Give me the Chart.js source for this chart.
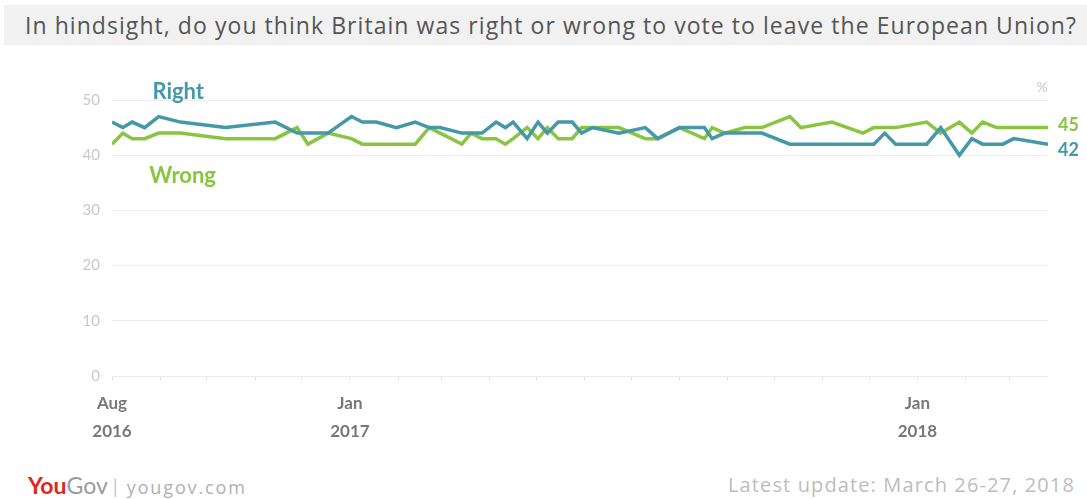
<!DOCTYPE html>
<html>
<head>
<meta charset="utf-8">
<script src="https://cdn.jsdelivr.net/npm/chart.js@4"></script>
<style>
  body { margin: 0; background: #fff; width: 1087px; height: 499px; overflow: hidden; position: relative; font-family: Lato, "Open Sans", sans-serif; }
  #titulek { position: absolute; left: 4px; top: 5px; width: 1083px; height: 40px; background: #f1f1f1; }
  #titulek span { position: absolute; left: 21px; top: 4px; font-family: "Open Sans", sans-serif; font-size: 23px; color: #555; white-space: nowrap; }
  #graf { position: absolute; left: 0; top: 0; width: 1087px; height: 460px; }
  #logo { position: absolute; left: 28px; top: 471px; font-size: 23px; white-space: nowrap; }
  #logo .you { color: #e0261d; font-weight: bold; }
  #logo .gov { color: #9a9a9a; }
  #logo .car { color: #c8c8c8; font-size: 20px; margin: 0 9px 0 5px; }
  #logo .web { color: #b0b0b0; font-family: "Open Sans", sans-serif; font-size: 18px; }
  #aktualizace { position: absolute; right: 12px; top: 471px; font-family: "Open Sans", sans-serif; font-size: 20px; color: #bdbdbd; white-space: nowrap; }
</style>
</head>
<body>
<div id="titulek"><span id="titulekText">In hindsight, do you think Britain was right or wrong to vote to leave the European Union?</span></div>
<div id="graf"><canvas id="grafPruzkumu"></canvas></div>
<div id="logo"><span class="you">You</span><span class="gov">Gov</span><span class="car">|</span><span class="web" id="web">yougov.com</span></div>
<div id="aktualizace">Latest update: March 26-27, 2018</div>

<script>
const terminy = [
  "2016-08-01", "2016-08-08", "2016-08-14", "2016-08-22", "2016-08-31", "2016-09-14",
  "2016-10-13", "2016-11-14", "2016-11-28", "2016-12-05", "2016-12-18", "2017-01-02",
  "2017-01-09", "2017-01-18", "2017-01-31", "2017-02-12", "2017-02-21", "2017-02-28",
  "2017-03-14", "2017-03-20", "2017-03-27", "2017-04-05", "2017-04-11", "2017-04-16",
  "2017-04-25", "2017-05-02", "2017-05-08", "2017-05-15", "2017-05-24", "2017-05-30",
  "2017-06-06", "2017-06-23", "2017-07-10", "2017-07-18", "2017-08-01", "2017-08-17",
  "2017-08-22", "2017-08-30", "2017-09-12", "2017-09-23", "2017-10-11", "2017-10-18",
  "2017-11-07", "2017-11-27", "2017-12-04", "2017-12-11", "2017-12-18", "2018-01-07",
  "2018-01-16", "2018-01-28", "2018-02-05", "2018-02-12", "2018-02-21", "2018-02-25",
  "2018-03-04", "2018-03-26"
];

const spravne = [
  46, 45, 46, 45, 47, 46,
  45, 46, 44, 44, 44, 47,
  46, 46, 45, 46, 45, 45,
  44, 44, 44, 46, 45, 46,
  43, 46, 44, 46, 46, 44,
  45, 44, 45, 43, 45, 45,
  43, 44, 44, 44, 42, 42,
  42, 42, 42, 44, 42, 42,
  45, 40, 43, 42, 42, 42,
  43, 42
];

const spatne = [
  42, 44, 43, 43, 44, 44,
  43, 43, 45, 42, 44, 43,
  42, 42, 42, 42, 45, 44,
  42, 44, 43, 43, 42, 43,
  45, 43, 45, 43, 43, 45,
  45, 45, 43, 43, 45, 43,
  45, 44, 45, 45, 47, 45,
  46, 44, 45, 45, 45, 46,
  44, 46, 44, 46, 45, 45,
  45, 45
];

// měsíční značky na ose x
const mesiceOsy = [
  "2016-08-01", "2016-09-01", "2016-10-01", "2016-11-01", "2016-12-01",
  "2017-01-01", "2017-02-01", "2017-03-01", "2017-04-01", "2017-05-01", "2017-06-01",
  "2017-07-01", "2017-08-01", "2017-09-01", "2017-10-01", "2017-11-01", "2017-12-01",
  "2018-01-01", "2018-02-01", "2018-03-01"
];
const popiskyOsy = {
  "2016-08-01": ["Aug", "2016"],
  "2017-01-01": ["Jan", "2017"],
  "2018-01-01": ["Jan", "2018"]
};
const konecOsy = "2018-03-26";
const osaY = [0, 10, 20, 30, 40, 50];

const BARVA_RIGHT = "#4598a7";
const BARVA_WRONG = "#89c541";

// doladí šířku textu podle originálu (jiný font)
function roztahni(el, sirka) {
  const n = el.textContent.length;
  el.style.letterSpacing = ((sirka - el.getBoundingClientRect().width) / n) + "px";
}
roztahni(document.getElementById("titulekText"), 1052);
roztahni(document.getElementById("aktualizace"), 347);
roztahni(document.getElementById("web"), 120);

const START = Date.parse("2016-08-01");
const den = d => Math.round((Date.parse(d) - START) / 86400000);

const body = hodnoty => terminy.map((t, i) => ({ x: den(t), y: hodnoty[i] }));

const popiskyPlugin = {
  id: "popisky",
  afterDatasetsDraw(chart) {
    const { ctx, scales: { x, y } } = chart;
    ctx.save();
    ctx.textBaseline = "middle";
    ctx.font = "bold 22px Lato, 'Open Sans', sans-serif";
    ctx.fillStyle = BARVA_RIGHT;
    ctx.fillText("Right", x.getPixelForValue(26), y.getPixelForValue(51.5));
    ctx.fillStyle = BARVA_WRONG;
    ctx.fillText("Wrong", x.getPixelForValue(24), y.getPixelForValue(36.3));

    // koncové hodnoty
    const posledni = terminy.length - 1;
    const xKonec = x.getPixelForValue(den(terminy[posledni])) + 10;
    ctx.font = "bold 18px Lato, 'Open Sans', sans-serif";
    ctx.fillStyle = BARVA_WRONG;
    ctx.fillText(String(spatne[posledni]), xKonec, y.getPixelForValue(spatne[posledni]) - 2);
    ctx.fillStyle = BARVA_RIGHT;
    ctx.fillText(String(spravne[posledni]), xKonec, y.getPixelForValue(spravne[posledni]) + 6);

    // procenta vpravo nahoře
    ctx.font = "14px Lato, 'Open Sans', sans-serif";
    ctx.fillStyle = "#c8c8c8";
    ctx.textAlign = "center";
    ctx.fillText("%", x.right - 6, y.top - 13);
    ctx.restore();
  }
};

new Chart(document.getElementById("grafPruzkumu"), {
  type: "line",
  data: {
    datasets: [
      {
        label: "Right",
        data: body(spravne),
        borderColor: BARVA_RIGHT,
        borderWidth: 3.5,
        pointRadius: 0,
        tension: 0
      },
      {
        label: "Wrong",
        data: body(spatne),
        borderColor: BARVA_WRONG,
        borderWidth: 3.5,
        pointRadius: 0,
        tension: 0
      }
    ]
  },
  options: {
    responsive: true,
    maintainAspectRatio: false,
    animation: false,
    layout: { padding: { top: 100, right: 39, left: 0, bottom: 0 } },
    plugins: {
      legend: { display: false },
      tooltip: { enabled: false }
    },
    scales: {
      x: {
        type: "linear",
        min: 0,
        max: den(konecOsy),
        afterBuildTicks: scale => {
          scale.ticks = mesiceOsy.map(m => ({ value: den(m) }));
        },
        afterFit: scale => { scale.height = 84; },
        grid: {
          drawOnChartArea: false,
          drawTicks: true,
          tickLength: 5,
          color: "#e4e4e4"
        },
        border: { display: false },
        ticks: {
          autoSkip: false,
          maxRotation: 0,
          padding: 8,
          color: "#777",
          font: { family: "Lato, 'Open Sans', sans-serif", size: 17, weight: "bold", lineHeight: 1.65 },
          callback: value => {
            const m = mesiceOsy.find(d => den(d) === value);
            return popiskyOsy[m] || "";
          }
        }
      },
      y: {
        min: 0,
        max: 50,
        afterBuildTicks: scale => {
          scale.ticks = osaY.map(v => ({ value: v }));
        },
        afterFit: scale => { scale.width = 112; },
        grid: { color: "#ececec", drawTicks: false },
        border: { display: false },
        ticks: {
          padding: 12,
          color: "#c8c8c8",
          font: { family: "Lato, 'Open Sans', sans-serif", size: 15 }
        }
      }
    }
  },
  plugins: [popiskyPlugin]
});
</script>
</body>
</html>
